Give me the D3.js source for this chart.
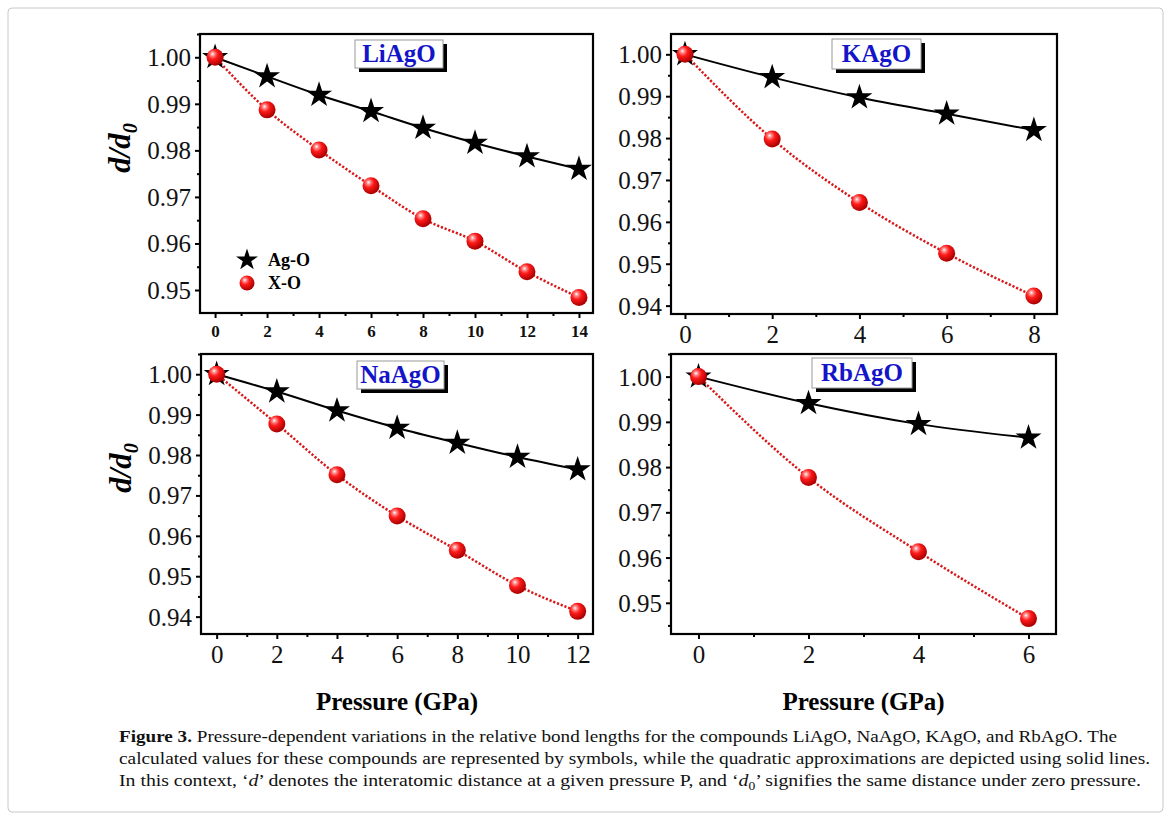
<!DOCTYPE html>
<html>
<meta charset="utf-8">
<head>
<title>Figure 3 - relative bond lengths</title>
<script src="https://cdnjs.cloudflare.com/ajax/libs/d3/7.8.5/d3.min.js"></script>
<style>
  body { margin: 0; background: #fff; }
  text { font-family: "Liberation Serif", "Times New Roman", serif; }
</style>
</head>
<body>
<script>

const width = 1171,
    height = 827;
const serif = "Liberation Serif, Times New Roman, serif";

// Values (d/d0 against pressure in GPa)
const liPressure = [0, 2, 4, 6, 8, 10, 12, 14];
const liAgO = [1.0, 0.9959, 0.9919, 0.9884, 0.9848, 0.9816, 0.9787, 0.9760];
const liXO = [1.0, 0.9887, 0.9801, 0.9724, 0.9653, 0.9605, 0.9539, 0.9484];

const naPressure = [0, 2, 4, 6, 8, 10, 12];
const naAgO = [1.0, 0.9957, 0.9910, 0.9867, 0.9830, 0.9795, 0.9764];
const naXO = [1.0, 0.9877, 0.9751, 0.9649, 0.9564, 0.9477, 0.9413];

const kPressure = [0, 2, 4, 6, 8];
const kAgO = [1.0, 0.9945, 0.9897, 0.9858, 0.9819];
const kXO = [1.0, 0.9798, 0.9646, 0.9525, 0.9423];

const rbPressure = [0, 2, 4, 6];
const rbAgO = [1.0, 0.9941, 0.9895, 0.9865];
const rbXO = [1.0, 0.9777, 0.9613, 0.9465];

// Tick labels
const liXTicks = [0, 2, 4, 6, 8, 10, 12, 14];
const naXTicks = [0, 2, 4, 6, 8, 10, 12];
const kXTicks = [0, 2, 4, 6, 8];
const rbXTicks = [0, 2, 4, 6];
const liYTicks = [0.95, 0.96, 0.97, 0.98, 0.99, 1.00];
const naYTicks = [0.94, 0.95, 0.96, 0.97, 0.98, 0.99, 1.00];
const kYTicks = [0.94, 0.95, 0.96, 0.97, 0.98, 0.99, 1.00];
const rbYTicks = [0.95, 0.96, 0.97, 0.98, 0.99, 1.00];

const seriesNames = ["Ag-O", "X-O"];

const svg = d3.select("body")
    .append("svg")
    .attr("width", width)
    .attr("height", height)
    .attr("font-family", serif);

// ball gradient for the X-O markers
const defs = svg.append("defs");
const grad = defs.append("radialGradient")
    .attr("id", "ball")
    .attr("cx", "38%").attr("cy", "35%").attr("r", "65%")
    .attr("fx", "35%").attr("fy", "30%");
grad.append("stop").attr("offset", "0%").attr("stop-color", "#ffffff");
grad.append("stop").attr("offset", "18%").attr("stop-color", "#ff8a8a");
grad.append("stop").attr("offset", "45%").attr("stop-color", "#ff1a1a");
grad.append("stop").attr("offset", "100%").attr("stop-color", "#a80000");

// light border round the whole figure
svg.append("rect")
    .attr("x", 8).attr("y", 8)
    .attr("width", 1155).attr("height", 804)
    .attr("rx", 4)
    .attr("fill", "none")
    .attr("stroke", "#c8c8c8")
    .attr("stroke-width", 1);

const panels = [
    {name: "LiAgO", left: 200, right: 593, top: 34, bottom: 313,
     xDom: [-0.58, 14.54], yDom: [0.94506, 1.005],
     xTicks: liXTicks, yTicks: liYTicks, p: liPressure, ag: liAgO, xo: liXO,
     boldX: true, box: [355, 40, 88, 28], yLabel: true, legend: true},
    {name: "KAgO", left: 671, right: 1057, top: 34, bottom: 314,
     xDom: [-0.32, 8.53], yDom: [0.938, 1.00485],
     xTicks: kXTicks, yTicks: kYTicks, p: kPressure, ag: kAgO, xo: kXO,
     boldX: false, box: [832, 39, 89, 30], yLabel: false, legend: false},
    {name: "NaAgO", left: 201, right: 593, top: 354, bottom: 634,
     xDom: [-0.52, 12.51], yDom: [0.9357, 1.005],
     xTicks: naXTicks, yTicks: naYTicks, p: naPressure, ag: naAgO, xo: naXO,
     boldX: false, box: [357, 361, 87, 28], yLabel: true, legend: false, xTitle: true},
    {name: "RbAgO", left: 671, right: 1056, top: 354, bottom: 634,
     xDom: [-0.50, 6.5], yDom: [0.9431, 1.005],
     xTicks: rbXTicks, yTicks: rbYTicks, p: rbPressure, ag: rbAgO, xo: rbXO,
     boldX: false, box: [812, 358, 100, 30], yLabel: false, legend: false, xTitle: true}
];

const starPath = d3.symbol().type(d3.symbolStar).size(210);
const legendStar = d3.symbol().type(d3.symbolStar).size(150);

function minorTicks(dom, step, majors) {
    const out = [];
    const start = Math.ceil(dom[0] / step - 1e-9);
    const end = Math.floor(dom[1] / step + 1e-9);
    for (let i = start; i <= end; i++) {
        const v = +(i * step).toFixed(4);
        if (!majors.some(m => Math.abs(m - v) < 1e-6)) out.push(v);
    }
    return out;
}

for (const pn of panels) {
    const x = d3.scaleLinear().domain(pn.xDom).range([pn.left, pn.right]);
    const y = d3.scaleLinear().domain(pn.yDom).range([pn.bottom, pn.top]);
    const g = svg.append("g");

    // y axis, major + minor ticks pointing out
    const yAx = g.append("g")
        .attr("transform", `translate(${pn.left},0)`)
        .call(d3.axisLeft(y).tickValues(pn.yTicks).tickSize(5).tickPadding(4)
            .tickFormat(d3.format(".2f")));
    yAx.attr("font-family", serif);
    yAx.select(".domain").remove();
    yAx.selectAll("line").attr("stroke-width", 2);
    yAx.selectAll("text")
        .attr("font-size", "25px")
        .attr("fill", "#111")
        .attr("dy", "0.34em");
    const yMin = g.append("g")
        .attr("transform", `translate(${pn.left},0)`)
        .call(d3.axisLeft(y).tickValues(minorTicks(pn.yDom, 0.005, pn.yTicks))
            .tickSize(3).tickFormat(""));
    yMin.select(".domain").remove();
    yMin.selectAll("line").attr("stroke-width", 2);

    // x axis
    const xAx = g.append("g")
        .attr("transform", `translate(0,${pn.bottom})`)
        .call(d3.axisBottom(x).tickValues(pn.xTicks).tickSize(5)
            .tickPadding(pn.boldX ? 7 : 6).tickFormat(d3.format("d")));
    xAx.attr("font-family", serif);
    xAx.select(".domain").remove();
    xAx.selectAll("line").attr("stroke-width", 2);
    xAx.selectAll("text")
        .attr("font-size", pn.boldX ? "17px" : "25px")
        .attr("font-weight", pn.boldX ? "bold" : "normal")
        .attr("fill", "#111");
    const xMin = g.append("g")
        .attr("transform", `translate(0,${pn.bottom})`)
        .call(d3.axisBottom(x).tickValues(minorTicks(pn.xDom, 1, pn.xTicks))
            .tickSize(3).tickFormat(""));
    xMin.select(".domain").remove();
    xMin.selectAll("line").attr("stroke-width", 2);

    // frame
    g.append("rect")
        .attr("x", pn.left).attr("y", pn.top)
        .attr("width", pn.right - pn.left).attr("height", pn.bottom - pn.top)
        .attr("fill", "none")
        .attr("stroke", "#000")
        .attr("stroke-width", 2.2);

    // compound label box with shadow
    const [bx, by, bw, bh] = pn.box;
    g.append("rect")
        .attr("x", bx + 4).attr("y", by + 4)
        .attr("width", bw).attr("height", bh)
        .attr("fill", "#000");
    g.append("rect")
        .attr("x", bx).attr("y", by)
        .attr("width", bw).attr("height", bh)
        .attr("fill", "#fff")
        .attr("stroke", "#9a9a9a")
        .attr("stroke-width", 1);
    g.append("text")
        .attr("x", bx + bw / 2).attr("y", by + bh / 2 + 8)
        .attr("text-anchor", "middle")
        .attr("font-family", serif)
        .attr("font-size", "25px")
        .attr("font-weight", "bold")
        .attr("fill", "#1414c8")
        .text(pn.name);

    // fitted curves
    const line = d3.line()
        .x(d => x(d[0]))
        .y(d => y(d[1]))
        .curve(d3.curveMonotoneX);
    g.append("path")
        .datum(pn.p.map((v, i) => [v, pn.ag[i]]))
        .attr("d", line)
        .attr("fill", "none")
        .attr("stroke", "#000")
        .attr("stroke-width", 2);
    g.append("path")
        .datum(pn.p.map((v, i) => [v, pn.xo[i]]))
        .attr("d", line)
        .attr("fill", "none")
        .attr("stroke", "#d81818")
        .attr("stroke-width", 2.5)
        .attr("stroke-dasharray", "2.2,1.8");

    // markers
    g.selectAll(".star")
        .data(pn.p.map((v, i) => [v, pn.ag[i]]))
        .enter()
        .append("path")
        .attr("class", "star")
        .attr("transform", d => `translate(${x(d[0])},${y(d[1])})`)
        .attr("d", starPath)
        .attr("fill", "#000");
    g.selectAll(".ball")
        .data(pn.p.map((v, i) => [v, pn.xo[i]]))
        .enter()
        .append("circle")
        .attr("class", "ball")
        .attr("cx", d => x(d[0]))
        .attr("cy", d => y(d[1]))
        .attr("r", 8.5)
        .attr("fill", "url(#ball)");

    // y title
    if (pn.yLabel) {
        const t = g.append("text")
            .attr("transform", `translate(${pn.left - 70},${pn.top + 114}) rotate(-90)`)
            .attr("text-anchor", "middle")
            .attr("font-family", serif)
            .attr("font-size", "31px")
            .attr("font-weight", "bold")
            .attr("font-style", "italic");
        t.append("tspan").text("d/d");
        t.append("tspan").attr("font-size", "20px").attr("dy", "7").text("0");
    }

    if (pn.xTitle) {
        g.append("text")
            .attr("x", (pn.left + pn.right) / 2)
            .attr("y", 710)
            .attr("text-anchor", "middle")
            .attr("font-family", serif)
            .attr("font-size", "25px")
            .attr("font-weight", "bold")
            .text("Pressure (GPa)");
    }

    if (pn.legend) {
        g.append("path")
            .attr("transform", "translate(247,260)")
            .attr("d", legendStar)
            .attr("fill", "#000");
        g.append("circle")
            .attr("cx", 247).attr("cy", 283).attr("r", 7.5)
            .attr("fill", "url(#ball)");
        g.selectAll(".legtext")
            .data(seriesNames)
            .enter()
            .append("text")
            .attr("x", 268)
            .attr("y", (d, i) => 266 + i * 23)
            .attr("font-family", serif)
            .attr("font-size", "18px")
            .attr("font-weight", "bold")
            .text(d => d);
    }
}

// caption
const cap = svg.append("g")
    .attr("font-family", serif)
    .attr("font-size", "17.5px")
    .attr("fill", "#111");
const l1 = cap.append("text").attr("x", 119).attr("y", 742)
    .attr("textLength", 998).attr("lengthAdjust", "spacingAndGlyphs");
l1.append("tspan").attr("font-weight", "bold").text("Figure 3.");
l1.append("tspan").text(" Pressure-dependent variations in the relative bond lengths for the compounds LiAgO, NaAgO, KAgO, and RbAgO. The");
cap.append("text").attr("x", 119).attr("y", 764)
    .attr("textLength", 1031).attr("lengthAdjust", "spacingAndGlyphs")
    .text("calculated values for these compounds are represented by symbols, while the quadratic approximations are depicted using solid lines.");
const l3 = cap.append("text").attr("x", 119).attr("y", 786)
    .attr("textLength", 1022).attr("lengthAdjust", "spacingAndGlyphs");
l3.append("tspan").text("In this context, \u2018");
l3.append("tspan").attr("font-style", "italic").text("d");
l3.append("tspan").text("\u2019 denotes the interatomic distance at a given pressure P, and \u2018");
l3.append("tspan").attr("font-style", "italic").text("d");
l3.append("tspan").attr("font-size", "12px").attr("dy", "4").text("0");
l3.append("tspan").attr("dy", "-4").text("\u2019 signifies the same distance under zero pressure.");

</script>
</body>
</html>
